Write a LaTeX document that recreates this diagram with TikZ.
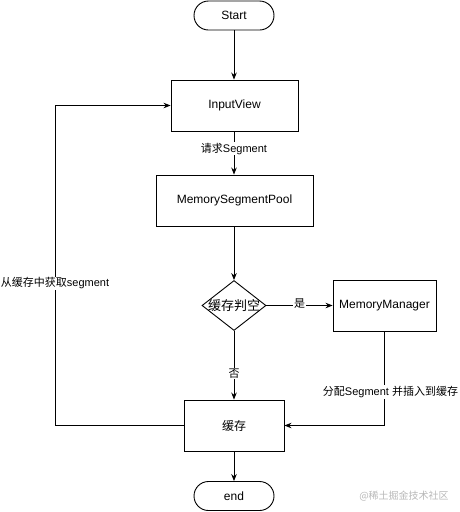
\documentclass[tikz,border=0pt]{standalone}
\usepackage{fontspec}
\setmainfont{Liberation Sans}
\newfontfamily\cjk{Noto Sans CJK SC}
\usetikzlibrary{arrows.meta,shapes.geometric}
\begin{document}
\begin{tikzpicture}[x=1pt,y=-1pt,
  every node/.style={font=\fontsize{12}{14}\selectfont, inner sep=0pt},
  box/.style={draw, line width=0.9pt, fill=white},
  term/.style={box, rounded corners=14.5pt, minimum width=80pt, minimum height=29pt},
  conn/.style={line width=0.9pt, -{Stealth[length=7pt,width=5.5pt]}},
  lbl/.style={fill=white, inner sep=1pt, font=\fontsize{11}{13}\selectfont}]
\useasboundingbox (0,0) rectangle (460,512);
\node[term] (start) at (234,15.5) {Start};
\node[box, minimum width=127pt, minimum height=51pt] (input) at (234.5,105.5) {InputView};
\node[box, minimum width=157pt, minimum height=51pt] (pool) at (234.5,200.5) {MemorySegmentPool};
\node[box, diamond, minimum width=64pt, minimum height=50pt] (empty) at (234,305.5) {};
\node[font=\fontsize{13}{15}\selectfont] (emptytxt) at (empty.center) {{\cjk 缓存判空}};
\node[box, minimum width=103pt, minimum height=51pt] (mm) at (384.5,305.5) {MemoryManager};
\node[box, minimum width=100pt, minimum height=51pt] (cache) at (234,425.5) {{\cjk 缓存}};
\node[term] (end) at (234,496) {end};
\coordinate (bl) at (55,425.5);
\coordinate (tl) at (55,105.5);
\coordinate (mr) at (384.5,425.5);

\draw[conn] (start.south) -- (start.south |- input.north);
\draw[conn] (input.south -| start.south) -- node[lbl, pos=0.4] {{\cjk 请求}Segment} (pool.north -| start.south);
\draw[conn] (pool.south -| start.south) -- (empty.north);
\draw[conn] (empty.east) -- node[lbl, pos=0.5, yshift=2pt] {\cjk 是} (mm.west);
\draw[conn] (empty.south) -- node[lbl, pos=0.62] {\cjk 否} (cache.north);
\draw[conn] (mm.south) -- node[lbl, pos=0.645, xshift=6pt] {{\cjk 分配}Segment {\cjk 并插入到缓存}} (mr) -- (cache.east);
\draw[conn] (cache.west) -- (bl) -- node[lbl, pos=0.444] {{\cjk 从缓存中获取}segment} (tl) -- (input.west);
\draw[conn] (cache.south) -- (end.north);
\node[text=black!28, font=\fontsize{10}{12}\selectfont] (wm) at (404,496) {{\cjk @稀土掘金技术社区}};
\end{tikzpicture}
\end{document}
